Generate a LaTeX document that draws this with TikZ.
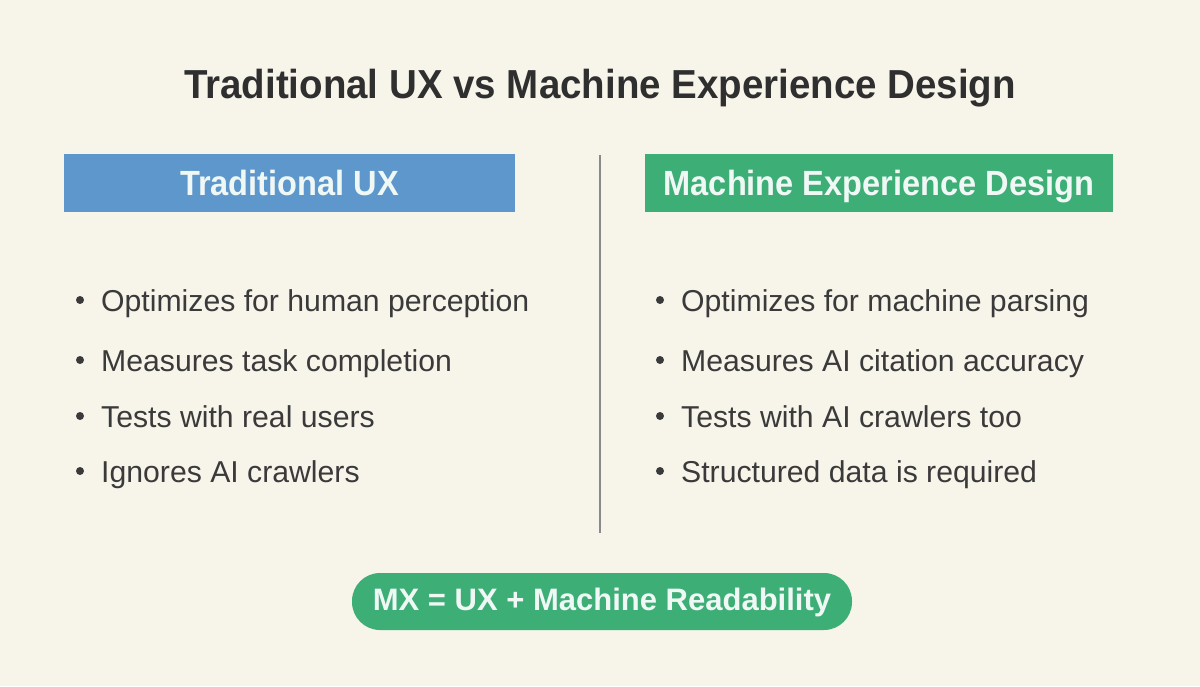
\documentclass[tikz,border=0pt]{standalone}
\usepackage{fontspec}
\setmainfont{Liberation Sans}
\newfontfamily\titlefont[FakeStretch=0.95]{Liberation Sans}
\newfontfamily\hdrfont[FakeStretch=0.93]{Liberation Sans}
\definecolor{bgc}{HTML}{F7F4EA}
\definecolor{bluec}{HTML}{5D97CB}
\definecolor{greenc}{HTML}{3DAE76}
\definecolor{txtc}{HTML}{3A3A3A}
\definecolor{titlec}{HTML}{2F2F2F}
\definecolor{hdrtxt}{HTML}{F0F8F6}
\definecolor{divc}{HTML}{8A8A8A}
\tikzset{
  hdrbox/.style={inner sep=0pt, minimum height=58pt},
  hdrtext/.style={anchor=base, inner sep=0pt, text=hdrtxt, font=\fontsize{35}{40}\hdrfont\bfseries},
  item/.style={anchor=base west, inner sep=0pt, text=txtc, font=\fontsize{30.2}{36}\selectfont},
  dot/.style={circle, fill=txtc, inner sep=0pt, minimum size=8pt},
}
\begin{document}
\begin{tikzpicture}[x=1pt,y=1pt]
\fill[bgc] (0,0) rectangle (1200,-686);
\useasboundingbox (0,0) rectangle (1200,-686);
\node[anchor=base, inner sep=0pt, text=titlec, font=\fontsize{40.5}{46}\titlefont\bfseries] (title) at (600,-98) {Traditional UX vs Machine Experience Design};
\node[hdrbox, fill=bluec, minimum width=451pt] (lh) at (289.5,-183) {};
\node[hdrtext] (lht) at (289.5,-195) {Traditional UX};
\node[hdrbox, fill=greenc, minimum width=468pt] (rh) at (879,-183) {};
\node[hdrtext] (rht) at (879,-195) {Machine Experience Design};
\coordinate (dtop) at (600,-155);
\coordinate (dbot) at (600,-533);
\draw[divc, line width=1.2pt] (dtop) -- (dbot);
\foreach \i/\y/\t in {1/311.5/Optimizes for human perception, 2/371.5/Measures task completion, 3/427.5/Tests with real users, 4/482.5/Ignores AI crawlers}{
  \node[dot] (ld\i) at (80,-\y+11.5) {};
  \node[item] (lt\i) at (101,-\y) {\t};
}
\foreach \i/\y/\t in {1/311.5/Optimizes for machine parsing, 2/371.5/Measures AI citation accuracy, 3/427.5/Tests with AI crawlers too, 4/482.5/Structured data is required}{
  \node[dot] (rd\i) at (660,-\y+11.5) {};
  \node[item] (rt\i) at (681,-\y) {\t};
}
\node[fill=greenc, rounded corners=28pt, minimum width=500pt, minimum height=57pt, inner sep=0pt] (mx) at (602,-601.5) {};
\node[anchor=base, inner sep=0pt, text=hdrtxt, font=\fontsize{31}{36}\selectfont\bfseries] (mxt) at (602,-610) {MX = UX + Machine Readability};
\end{tikzpicture}
\end{document}
